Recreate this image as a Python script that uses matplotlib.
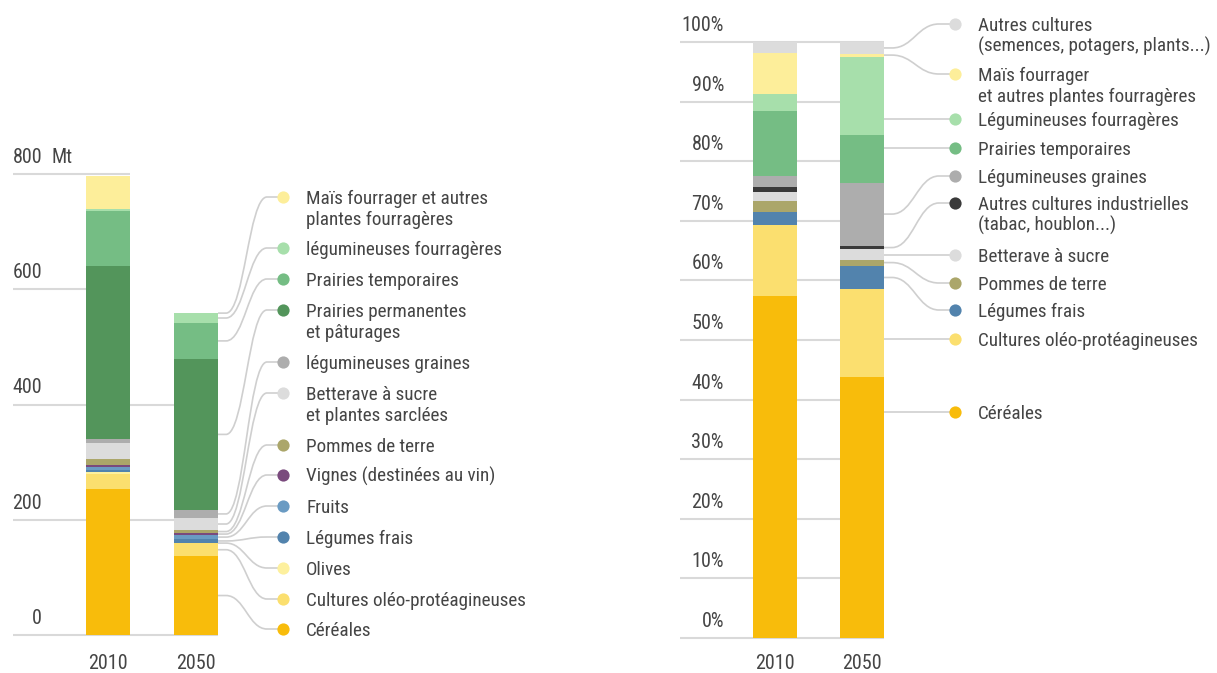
import numpy as np
import matplotlib
matplotlib.use('Agg')
import matplotlib.pyplot as plt
from matplotlib.path import Path
from matplotlib.patches import PathPatch
from matplotlib.lines import Line2D

plt.rcParams['font.family'] = ['Roboto Condensed', 'Barlow Semi Condensed', 'DejaVu Sans']

# --- data ---------------------------------------------------------------
years = ['2010', '2050']

# left panel: millions of tonnes, bottom -> top
mt_labels = ['Céréales', 'Cultures oléo-protéagineuses', 'Olives', 'Légumes frais',
             'Fruits', 'Vignes (destinées au vin)', 'Pommes de terre',
             'Betterave à sucre\net plantes sarclées', 'légumineuses graines',
             'Prairies permanentes\net pâturages', 'Prairies temporaires',
             'légumineuses fourragères', 'Maïs fourrager et autres\nplantes fourragères']
mt_colors = ['#F8BC0B', '#FBDF6F', '#FDF09E', '#5283AD', '#6A9BC3', '#7A4A7D', '#ABA66A',
             '#DCDCDC', '#ADADAD', '#53955B', '#75BD84', '#A7DFAB', '#FDEE9A']
mt_2010 = [253, 26.6, 3, 3.5, 4.6, 3.5, 11.6, 28, 5.8, 300, 97, 3.5, 57]
mt_2050 = [137, 22, 1, 6.4, 7, 3.5, 5.2, 21, 14, 262, 62.5, 17, 0]
mt_ticks = [0, 200, 400, 600, 800]

# right panel: share of area (%), bottom -> top
pct_labels = ['Céréales', 'Cultures oléo-protéagineuses', 'Légumes frais', 'Pommes de terre',
              'Betterave à sucre', 'Autres cultures industrielles\n(tabac, houblon...)',
              'Légumineuses graines', 'Prairies temporaires', 'Légumineuses fourragères',
              'Maïs fourrager\net autres plantes fourragères',
              'Autres cultures\n(semences, potagers, plants...)']
pct_colors = ['#F8BC0B', '#FBDF6F', '#5283AD', '#ABA66A', '#DCDCDC', '#3A3A3A', '#ADADAD',
              '#75BD84', '#A7DFAB', '#FDEE9A', '#DCDCDC']
pct_2010 = [57.4, 11.9, 2.2, 1.85, 1.5, 0.85, 1.9, 10.9, 2.85, 6.9, 1.75]
pct_2050 = [43.8, 14.7, 4.0, 1.0, 1.7, 0.65, 10.6, 8.05, 13.1, 0.5, 1.9]
pct_ticks = list(range(0, 101, 10))

# --- layout (pixels, origin top-left) -------------------------------------
W, H = 1217, 673
TEXT = '#454545'
GRID = '#d9d9d9'
LEAD = '#cfcfcf'
FS_TICK = 14.5
FS_LEG = 13.8
YEAR_BASE = 669

mt_dot_y = [629, 599, 568, 537, 506, 475, 445, 393, 362, 310, 279, 248, 197]
pct_dot_y = [412, 339, 310, 283, 255, 203, 176, 148, 119, 74, 24]

fig = plt.figure(figsize=(W / 100, H / 100), dpi=100)


def px_axes(x0, y0, x1, y1):
    return fig.add_axes([x0 / W, 1 - y1 / H, (x1 - x0) / W, (y1 - y0) / H])


def to_px(ax, x, y):
    dx, dy = ax.transData.transform((x, y))
    return dx, H - dy


def fig_xy(x, y):
    return x / W, 1 - y / H


def panel(ax, series, colors, ticks, fmt, label_frac, bar_w):
    x = np.arange(len(years))
    data = np.array(series).T  # categories x years
    bottoms = np.zeros(len(years))
    segs = []
    for row, c in zip(data, colors):
        ax.bar(x, row, bar_w, bottom=bottoms, color=c, linewidth=0, zorder=2)
        segs.append((bottoms.copy(), bottoms + row))
        bottoms = bottoms + row
    ax.set_ylim(0, ticks[-1])
    xmin = ax.get_xlim()[0]
    tol = 0.03 * ticks[-1]
    for t in ticks:
        reach = [i for i in range(len(years)) if bottoms[i] >= t - tol]
        xe = x[max(reach)] + bar_w / 2
        ax.plot([xmin, xe], [t, t], color=GRID, lw=1.5, zorder=1, clip_on=False,
                solid_capstyle='butt')
        ax.annotate(fmt(t), (label_frac, t), xycoords=ax.get_yaxis_transform(),
                    xytext=(0, 11), textcoords='offset pixels', ha='right', va='baseline',
                    fontsize=FS_TICK, color=TEXT)
    for i, yr in enumerate(years):
        _, y_bottom = to_px(ax, x[i], 0)
        ax.annotate(yr, (x[i], 0), xytext=(0, y_bottom - YEAR_BASE), textcoords='offset pixels',
                    ha='center', va='baseline', fontsize=FS_TICK, color=TEXT)
    ax.axis('off')
    return segs


def legend(ax, segs, labels, colors, dot_y, dot_x, text_x, bar_idx, bar_w, snap):
    for (lo, hi), lab, c, yd in zip(segs, labels, colors, dot_y):
        x0, ylo = to_px(ax, bar_idx + bar_w / 2, lo[bar_idx])
        _, yhi = to_px(ax, bar_idx + bar_w / 2, hi[bar_idx])
        if snap and yhi <= yd <= ylo:
            y0 = yd
        else:
            y0 = (ylo + yhi) / 2
        a, b = x0 + 8, dot_x - 16
        k = 0.45 * (b - a)
        if abs(y0 - yd) < 0.5:
            verts = [(x0, y0), (dot_x, yd)]
            codes = [Path.MOVETO, Path.LINETO]
        else:
            verts = [(x0, y0), (a, y0), (a + k, y0), (b - k, yd), (b, yd), (dot_x, yd)]
            codes = [Path.MOVETO, Path.LINETO, Path.CURVE4, Path.CURVE4, Path.CURVE4,
                     Path.LINETO]
        verts = [fig_xy(vx, vy) for vx, vy in verts]
        fig.add_artist(PathPatch(Path(verts, codes), fill=False, edgecolor=LEAD, lw=1.2,
                                 transform=fig.transFigure, zorder=3))
        fx, fy = fig_xy(dot_x, yd)
        fig.add_artist(Line2D([fx], [fy], marker='o', ms=8.8, mfc=c, mec='none', ls='none',
                              transform=fig.transFigure, zorder=4))
        for j, line in enumerate(lab.split('\n')):
            tx, ty = fig_xy(text_x, yd + 7 + 21 * j)
            fig.text(tx, ty, line, ha='left', va='baseline', fontsize=FS_LEG, color=TEXT)


# left panel: Mt
ax1 = px_axes(13, 174, 218, 635)
ax1.set_xlim(-1.0795, 1.25)
segs1 = panel(ax1, [mt_2010, mt_2050], mt_colors, mt_ticks, lambda v: f'{v}',
              (42 - 13) / 205, 0.5)
ax1.annotate('Mt', (0.19, 800), xycoords=ax1.get_yaxis_transform(), xytext=(0, 11),
             textcoords='offset pixels', ha='left', va='baseline', fontsize=FS_TICK, color=TEXT)
legend(ax1, segs1, mt_labels, mt_colors, mt_dot_y, 283, 306, 1, 0.5, False)

# right panel: %
ax2 = px_axes(680, 42.3, 884, 637.7)
ax2.set_xlim(-1.092, 1.253)
segs2 = panel(ax2, [pct_2010, pct_2050], pct_colors, pct_ticks, lambda v: f'{v}%',
              (724 - 680) / 204, 0.506)
legend(ax2, segs2, pct_labels, pct_colors, pct_dot_y, 955, 978, 1, 0.506, True)

fig.savefig('out.png', dpi=100, facecolor='white')
